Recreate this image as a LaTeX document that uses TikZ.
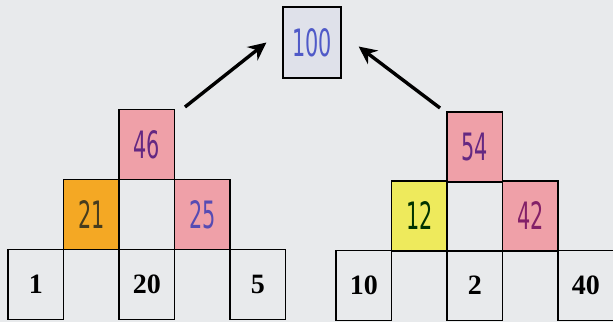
\documentclass[tikz,border=0pt]{standalone}
\usepackage{fontspec}
\usepackage{graphicx}
\setmainfont{Liberation Serif}
\newfontfamily\handfont{DejaVu Sans}
\usetikzlibrary{arrows.meta,calc}
\definecolor{paper}{RGB}{232,234,236}
\definecolor{crorange}{RGB}{244,168,36}
\definecolor{crpink}{RGB}{239,160,168}
\definecolor{cryellow}{RGB}{238,234,92}
\definecolor{inkblue}{RGB}{80,90,200}
\definecolor{inkpurple}{RGB}{100,40,130}
\definecolor{inkdark}{RGB}{70,60,30}
\newcommand{\handnum}[1]{\scalebox{0.8}[1.45]{#1}}
\begin{document}
\begin{tikzpicture}[x=1pt,y=1pt,
  cell/.style={draw,line width=1.2pt,minimum width=55.5pt,minimum height=70pt,inner sep=0pt},
  num/.style={cell,font=\fontsize{28}{30}\selectfont\bfseries},
  hw/.style={cell,font=\fontsize{26}{28}\selectfont\handfont},
  arr/.style={line width=3.4pt,-{Stealth[length=18pt,width=17pt]}}]
  \fill[paper] (0,0) rectangle (613,322); \useasboundingbox (0,0) rectangle (613,322);
  % left pyramid
  \node[num] (l1) at (35.75,37.5) {1}; \node[num] (l3) at (146.75,37.5) {20}; \node[num] (l5) at (257.75,37.5) {5};
  \node[hw,fill=crorange,text=inkdark] (l21) at (91.25,107.5) {\handnum{21}};
  \node[cell] (lm) at (146.75,107.5) {};
  \node[hw,fill=crpink,text=inkblue!70!inkpurple] (l25) at (202.25,107.5) {\handnum{25}};
  \node[hw,fill=crpink,text=inkpurple] (lt) at (146.75,177.5) {\handnum{46}};
  % right pyramid
  \node[num] (r1) at (363.75,36.5) {10}; \node[num] (r3) at (474.75,36.5) {2}; \node[num] (r5) at (585.75,36.5) {40};
  \node[hw,fill=cryellow,text=black!80!green] (r12) at (419.25,106) {\handnum{12}};
  \node[cell] (rm) at (474.75,106) {};
  \node[hw,fill=crpink,text=inkpurple!80!red] (r42) at (530.25,106) {\handnum{42}};
  \node[hw,fill=crpink,text=inkpurple] (rt) at (474.75,175) {\handnum{54}};
  % sum
  \node[hw,minimum width=58pt,minimum height=71pt,fill=inkblue!6!paper,text=inkblue] (top) at (312,279.5) {\handnum{100}};
  \coordinate (la) at (185,215); \coordinate (ra) at (440,214);
  \draw[arr] (la) -- ($(top.west)+(-16,0)$); \draw[arr] (ra) -- ($(top.east)+(17,-4)$);
\end{tikzpicture}
\end{document}
